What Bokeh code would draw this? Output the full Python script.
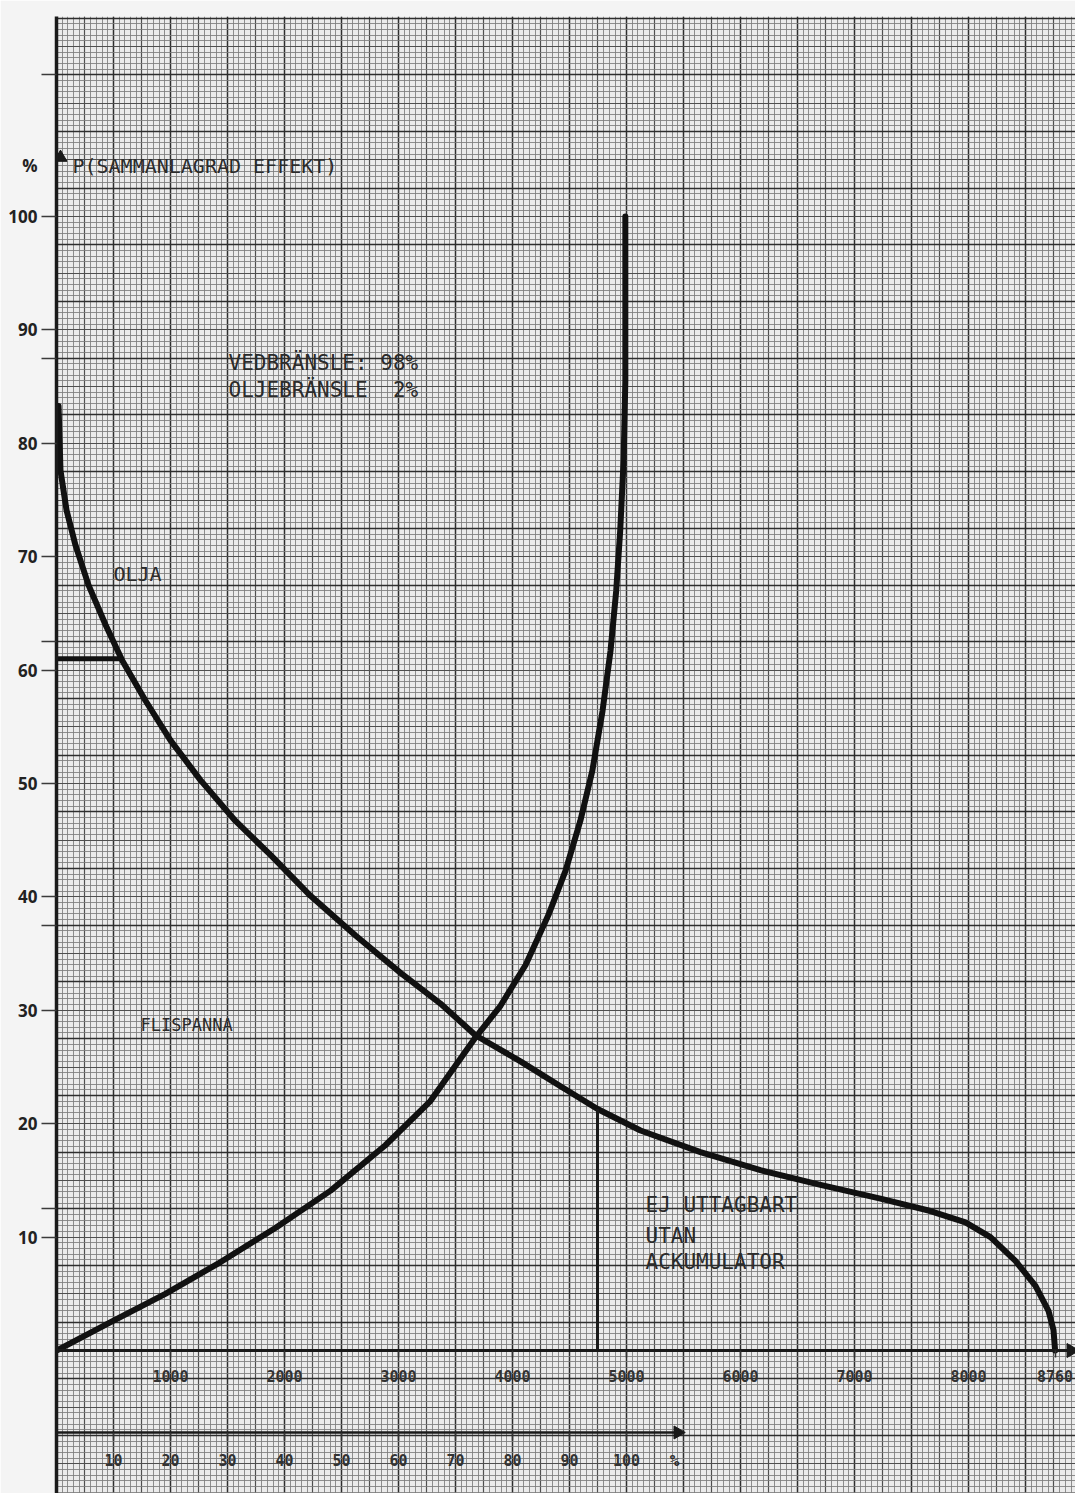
import numpy as np
from bokeh.plotting import figure
from bokeh.models import Range1d, LinearAxis, FixedTicker, Grid
from bokeh.core.properties import value
from bokeh.embed import file_html
from bokeh.resources import INLINE

# ---------------- data ----------------
# load duration curve: hours per year vs. P (coincident load, %)
load_hours = [18, 35, 88, 167, 281, 430, 579, 781, 1000, 1263, 1570, 1877, 2228,
              2623, 3018, 3368, 3675, 4070, 4421, 4746, 5123, 5649, 6175, 6702,
              7228, 7667, 7974, 8193, 8412, 8588, 8702, 8746, 8760]
load_pct = [83.3, 77.6, 74.1, 71.0, 67.5, 64.0, 60.8, 57.3, 53.8, 50.3, 46.7, 43.7,
            40.1, 36.6, 33.3, 30.6, 27.8, 25.5, 23.3, 21.3, 19.4, 17.5, 15.9, 14.6,
            13.4, 12.3, 11.3, 10.0, 7.9, 5.7, 3.5, 1.8, 0]

# cumulative energy curve: share of yearly energy (%) vs. P (%)
energy_share_pct = [0, 9.5, 19.1, 28.8, 38.4, 48.1, 57.7, 65.6, 73.5, 77.9, 82.3,
                    86.3, 89.3, 91.9, 94.0, 95.8, 97.2, 98.2, 98.9, 99.5, 99.8, 99.8]
energy_load_pct = [0, 2.5, 5.0, 7.8, 10.8, 14.1, 18.1, 22.0, 27.6, 30.4, 34.0, 38.4,
                   42.3, 46.7, 51.1, 56.4, 61.7, 67.0, 72.3, 78.5, 85.5, 100]

oil_limit_pct = 61.0          # OLJA above this level
accumulator_hours = 4746      # EJ UTTAGBART UTAN ACKUMULATOR to the right

y_ticks = [10, 20, 30, 40, 50, 60, 70, 80, 90, 100]
y_unit_label = "%"
hour_ticks = [1000, 2000, 3000, 4000, 5000, 6000, 7000, 8000, 8760]
share_ticks = [10, 20, 30, 40, 50, 60, 70, 80, 90, 100]

# ---------------- figure ----------------
HOURS_PER_PCT = 50.0   # 100 % on the lower scale sits at 5000 h
X0, X1 = 0, 8939
Y0, Y1 = -12.61, 117.64
UNIT_Y = 104.5

p = figure(width=1075, height=1493, x_range=Range1d(X0, X1), y_range=Range1d(Y0, Y1),
           output_backend="svg", toolbar_location=None, x_axis_location=None,
           min_border_left=56, min_border_right=0, min_border_top=16, min_border_bottom=0)
p.extra_x_ranges = {"pct": Range1d(X0 / HOURS_PER_PCT, X1 / HOURS_PER_PCT)}
p.background_fill_color = "#ebebeb"
p.border_fill_color = "#f4f4f4"
p.outline_line_color = None
p.grid.visible = False

# graph paper: 1 mm, 5 mm and 10 mm lines
mm_x = list(np.arange(0, 9000, 50))
mm_y = list(np.arange(-12.5, 118, 0.5))
for dim, cm_ticks, half_ticks, mm_ticks in (
        (0, np.arange(0, 9000, 500), np.arange(250, 9000, 500), mm_x),
        (1, np.arange(-7.5, 118, 5), np.arange(-10, 118, 5), mm_y)):
    p.add_layout(Grid(dimension=dim,
                      ticker=FixedTicker(ticks=list(half_ticks), minor_ticks=mm_ticks),
                      grid_line_color="#4f4f4f", grid_line_width=1.2,
                      minor_grid_line_color="#7d7d7d", minor_grid_line_width=1,
                      minor_grid_line_alpha=0.85))
    p.add_layout(Grid(dimension=dim, ticker=FixedTicker(ticks=list(cm_ticks)),
                      grid_line_color="#2e2e2e", grid_line_width=1.5))

# y axis: labels on major ticks (incl. the "%" unit), tick marks drawn as minor ticks
ya = p.yaxis[0]
ya.ticker = FixedTicker(ticks=y_ticks + [UNIT_Y],
                        minor_ticks=y_ticks + [12.5, 37.5, 62.5, 87.5, 112.5])
ya.major_label_overrides = {UNIT_Y: y_unit_label}
ya.major_tick_line_color = None
ya.major_tick_in = 0
ya.major_tick_out = 15
ya.minor_tick_in = 0
ya.minor_tick_out = 15
ya.minor_tick_line_width = 1.5
ya.minor_tick_line_color = "#3a3a3a"
ya.axis_line_width = 3.5
ya.axis_line_color = "#1a1a1a"
ya.major_label_text_font = "Open Sans"
ya.major_label_text_font_size = "17px"
ya.major_label_text_font_style = "bold"
ya.major_label_text_color = "#222222"
ya.major_label_standoff = 4

# hours axis on P = 0
xa = LinearAxis(fixed_location=0, ticker=FixedTicker(ticks=hour_ticks))
xa.axis_line_width = 3
xa.axis_line_color = "#1a1a1a"
xa.major_tick_in = 0
xa.major_tick_out = 7
xa.major_tick_line_width = 1.5
xa.major_tick_line_color = "#333333"
xa.minor_tick_line_color = None
xa.major_label_standoff = 12
xa.major_label_text_font = "DejaVu Sans Mono"
xa.major_label_text_font_size = "15px"
xa.major_label_text_font_style = "bold"
xa.major_label_text_color = "#333333"
p.add_layout(xa, "below")

# energy-share axis (0-100 %)
PCT_AXIS_Y = -7.23
pa = LinearAxis(x_range_name="pct", fixed_location=PCT_AXIS_Y,
                ticker=FixedTicker(ticks=share_ticks))
pa.axis_line_color = None
pa.major_tick_in = 0
pa.major_tick_out = 8
pa.major_tick_line_width = 1.5
pa.major_tick_line_color = "#333333"
pa.minor_tick_line_color = None
pa.major_label_standoff = 14
pa.major_label_text_font = "DejaVu Sans Mono"
pa.major_label_text_font_size = "15px"
pa.major_label_text_font_style = "bold"
pa.major_label_text_color = "#333333"
p.add_layout(pa, "below")

p.line([0, 109], [PCT_AXIS_Y, PCT_AXIS_Y], x_range_name="pct", line_color="#1a1a1a",
       line_width=2.5)
p.scatter([109], [PCT_AXIS_Y], x_range_name="pct", marker="triangle", angle=-np.pi / 2,
          size=13, color="#1a1a1a")
p.scatter([8900], [0], marker="triangle", angle=-np.pi / 2, size=14, color="#1a1a1a")
p.scatter([35], [105.2], marker="triangle", size=13, color="#1a1a1a")

# curves
p.line(load_hours, load_pct, line_color="#111111", line_width=6,
       line_join="round", line_cap="round")
p.line(energy_share_pct, energy_load_pct, x_range_name="pct", line_color="#111111",
       line_width=6, line_join="round", line_cap="round")

oil_hours = float(np.interp(-oil_limit_pct, [-v for v in load_pct], load_hours))
p.line([0, oil_hours], [oil_limit_pct, oil_limit_pct], line_color="#111111",
       line_width=5)
acc_pct = float(np.interp(accumulator_hours, load_hours, load_pct))
p.line([accumulator_hours, accumulator_hours], [0, acc_pct], line_color="#1a1a1a",
       line_width=3)

# texts
mono = value("DejaVu Sans Mono")
tc = "#2b2b2b"
nb = "\u00a0"
p.text([140], [104.5], text=["P(SAMMANLAGRAD" + nb + "EFFEKT)"], text_font=mono,
       text_font_size="20px", text_color=tc, text_baseline="middle")
p.text([1509, 1509], [87.1, 84.7],
       text=["VEDBRÄNSLE:" + nb + "98%", "OLJEBRÄNSLE" + nb * 2 + "2%"],
       text_font=mono, text_font_size="21px", text_color=tc, text_baseline="middle")
p.text([500], [68.5], text=["OLJA"], text_font=mono, text_font_size="20px",
       text_color=tc, text_baseline="middle")
p.text([737], [28.7], text=["FLISPANNA"], text_font=mono, text_font_size="17px",
       text_color=tc, text_baseline="middle")
p.text([5167, 5167, 5167], [12.8, 10.1, 7.8],
       text=["EJ" + nb + "UTTAGBART", "UTAN", "ACKUMULATOR"], text_font=mono,
       text_font_size="21px", text_color=tc, text_baseline="middle")
p.text([107.6], [PCT_AXIS_Y - 2.5], x_range_name="pct", text=["%"], text_font=mono,
       text_font_size="16px", text_font_style="bold", text_color=tc,
       text_baseline="middle")

open("out.html", "w").write(file_html(p, INLINE))
